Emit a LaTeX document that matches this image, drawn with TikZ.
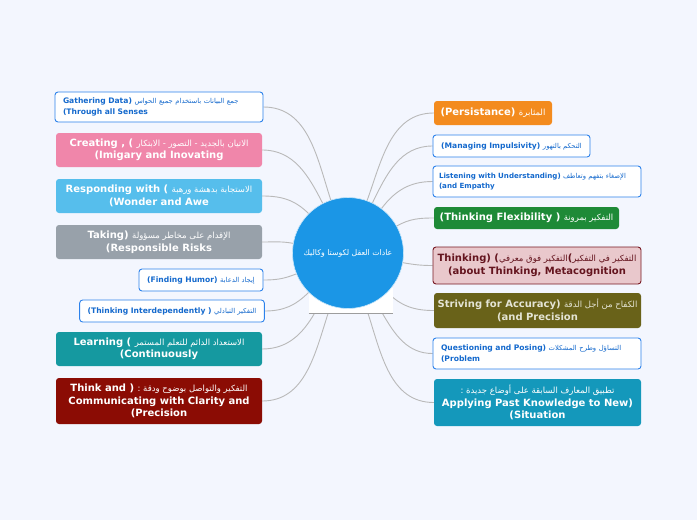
\documentclass[tikz,border=0pt]{standalone}
\usepackage{fontspec}
\usetikzlibrary{calc,backgrounds}
\setmainfont{DejaVu Sans}
\newfontfamily\arabicfont[Script=Arabic]{DejaVu Sans}
\TeXXeTstate=1
\newcommand\artx[1]{{\arabicfont\mdseries\beginR #1\endR}}
\newcommand\arbig[1]{{\fontsize{8.5}{12.5}\selectfont\artx{#1}}}
\newcommand\arsm[1]{{\fontsize{6.8}{10}\selectfont\artx{#1}}}
\definecolor{bgcol}{RGB}{243,246,254}
\definecolor{bblue}{RGB}{45,130,235}
\definecolor{tblue}{RGB}{20,105,205}
\definecolor{cpink}{RGB}{240,134,170}
\definecolor{clblue}{RGB}{86,190,236}
\definecolor{cgray}{RGB}{152,161,170}
\definecolor{cteal}{RGB}{21,153,160}
\definecolor{cdred}{RGB}{139,12,4}
\definecolor{corange}{RGB}{243,139,30}
\definecolor{cgreen}{RGB}{30,138,55}
\definecolor{mfill}{RGB}{233,200,204}
\definecolor{mdraw}{RGB}{120,25,35}
\definecolor{mtext}{RGB}{100,20,30}
\definecolor{colive}{RGB}{105,98,25}
\definecolor{olivetext}{RGB}{228,228,212}
\definecolor{capply}{RGB}{20,152,187}
\definecolor{ccircle}{RGB}{27,150,230}
\definecolor{lnkgray}{RGB}{185,185,185}
\tikzset{
  cbox/.style={rounded corners=3pt, inner sep=0pt, align=center, text=white,
    font=\fontsize{10}{12.5}\selectfont\bfseries},
  wbox/.style={rounded corners=3pt, inner xsep=8pt, inner ysep=0pt, fill=white, draw=bblue,
    line width=0.9pt, text=tblue, align=left, font=\fontsize{7.6}{10.5}\selectfont\bfseries},
  lnk/.style={draw=lnkgray, line width=0.9pt},
}
\begin{document}
\begin{tikzpicture}[x=1pt,y=1pt]
\begin{scope}[on background layer]
\path[use as bounding box, fill=bgcol] (0,0) rectangle (697,-520);
\end{scope}

% left boxes
\node[wbox, minimum width=208pt, minimum height=30pt, text width=192pt] (b1) at (159,-107)
  {Gathering Data) \arsm{جمع البيانات باستخدام جميع الحواس}\\(Through all Senses};
\node[cbox, fill=cpink, minimum width=206pt, minimum height=34pt] (b2) at (159,-150)
  {Creating , ( \arbig{الاتيان بالجديد - التصور - الابتكار}\\(Imigary and Inovating};
\node[cbox, fill=clblue, minimum width=206pt, minimum height=34pt] (b3) at (159,-196)
  {Responding with ( \arbig{الاستجابة بدهشة ورهبة}\\(Wonder and Awe};
\node[cbox, fill=cgray, minimum width=206pt, minimum height=34pt] (b4) at (159,-242)
  {Taking) \arbig{الإقدام على مخاطر مسؤولة}\\(Responsible Risks};
\node[wbox, minimum width=124pt, minimum height=22pt] (b5) at (201,-280)
  {(Finding Humor) \arsm{إيجاد الدعابة}};
\node[wbox, minimum width=182pt, minimum height=22pt] (b6) at (172,-311)
  {(Thinking Interdependently ) \arsm{التفكير التبادلي}};
\node[cbox, fill=cteal, minimum width=206pt, minimum height=34pt] (b7) at (159,-349)
  {Learning ( \arbig{الاستعداد الدائم للتعلم المستمر}\\(Continuously};
\node[cbox, fill=cdred, minimum width=206pt, minimum height=46pt] (b8) at (159,-401)
  {Think and ) \arbig{التفكير والتواصل بوضوح ودقة :}\\Communicating with Clarity and\\(Precision};

% right boxes
\node[cbox, fill=corange, minimum width=118pt, minimum height=24pt] (b9) at (493,-113)
  {(Persistance) \arbig{المثابرة}};
\node[wbox, minimum width=157pt, minimum height=22pt] (b10) at (511.5,-146)
  {(Managing Impulsivity) \arsm{التحكم بالتهور}};
\node[wbox, font=\fontsize{7.1}{10.5}\selectfont\bfseries, minimum width=208pt, minimum height=31pt,
  inner xsep=6pt, text width=196pt] (b11) at (537,-181.5)
  {Listening with Understanding) \arsm{الإصغاء بتفهم وتعاطف}\\(and Empathy};
\node[cbox, fill=cgreen, minimum width=185pt, minimum height=22pt] (b12) at (526.5,-218)
  {(Thinking Flexibility ) \arbig{التفكير بمرونة}};
\node[cbox, fill=mfill, draw=mdraw, line width=0.9pt, text=mtext, minimum width=208pt, minimum height=37pt] (b13) at (537,-265.5)
  {Thinking) (\arbig{التفكير فوق معرفي}(\arbig{التفكير في التفكير}\\(about Thinking, Metacognition};
\node[cbox, fill=colive, text=olivetext, minimum width=207pt, minimum height=35pt] (b14) at (537.5,-310.5)
  {Striving for Accuracy) \arbig{الكفاح من أجل الدقة}\\(and Precision};
\node[wbox, minimum width=208pt, minimum height=31pt, text width=192pt] (b15) at (537,-353.5)
  {Questioning and Posing) \arsm{التساؤل وطرح المشكلات}\\(Problem};
\node[cbox, fill=capply, minimum width=207pt, minimum height=47pt] (b16) at (537.5,-402.5)
  {\arbig{تطبيق المعارف السابقة على أوضاع جديدة :}\\Applying Past Knowledge to New)\\(Situation};

% hidden node behind the circle and the centre
\node[fill=white, minimum width=84pt, minimum height=25pt, inner sep=0pt, anchor=south] (hid) at (351,-313) {};
\draw[draw=lnkgray!85!black, line width=1pt] (hid.south west) -- (hid.south east);
\node[circle, fill=ccircle, draw=white!75!ccircle, line width=0.6pt, minimum size=111pt, inner sep=0pt,
  text=white, font=\fontsize{7.8}{10}\selectfont] (c) at (348,-253) {\artx{عادات العقل لكوستا وكاليك}};

\coordinate (e7) at ($(hid.south west)!0.07!(hid.south east)$);
\coordinate (e8) at ($(hid.south west)!0.23!(hid.south east)$);
\coordinate (e16) at ($(hid.south west)!0.70!(hid.south east)$);
\coordinate (e15) at ($(hid.south west)!0.87!(hid.south east)$);

\begin{scope}[on background layer]
\draw[lnk] (b1.east) to[out=0,in=108] (c.108);
\draw[lnk] (b2.east) to[out=0,in=117] (c.117);
\draw[lnk] (b3.east) to[out=0,in=135] (c.135);
\draw[lnk] (b4.east) to[out=0,in=170] (c.170);
\draw[lnk] (b5.east) to[out=0,in=202] (c.202);
\draw[lnk] (b6.east) to[out=0,in=225] (c.225);
\draw[lnk] (b7.east) to[out=0,in=240] (e7);
\draw[lnk] (b8.east) to[out=0,in=252] (e8);
\draw[lnk] (b9.west) to[out=180,in=70] (c.70);
\draw[lnk] (b10.west) to[out=180,in=64] (c.64);
\draw[lnk] (b11.west) to[out=180,in=53] (c.53);
\draw[lnk] (b12.west) to[out=180,in=29] (c.29);
\draw[lnk] (b13.west) to[out=180,in=350] (c.350);
\draw[lnk] (b14.west) to[out=180,in=315] (c.315);
\draw[lnk] (b15.west) to[out=180,in=300] (e15);
\draw[lnk] (b16.west) to[out=180,in=288] (e16);
\end{scope}
\end{tikzpicture}
\end{document}
